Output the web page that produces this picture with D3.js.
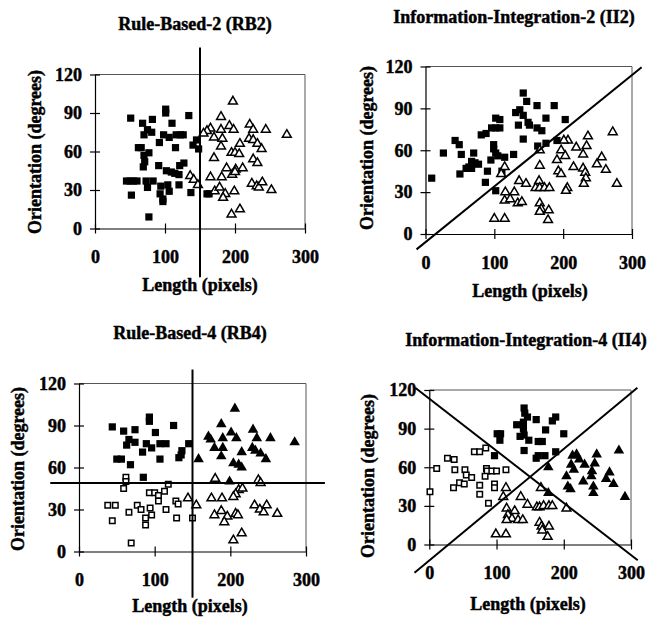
<!DOCTYPE html>
<html>
<head>
<meta charset="utf-8">
<script src="https://cdn.jsdelivr.net/npm/d3@7"></script>
<style>
body { margin: 0; background: #fff; }
text { font-family: "Liberation Serif", "Times New Roman", serif; font-weight: bold; fill: #000; stroke: #000; stroke-width: 0.45px; }
</style>
</head>
<body>
<svg id="chart" width="649" height="623"></svg>
<script>
// tick values shared by all four panels
var xTicks = [0, 100, 200, 300];
var yTicks = [0, 30, 60, 90, 120];

// RB2: [length, orientation]
var rb2Squares = [[51,86],[82,85],[101,90],[101,93],[134,88],[68,82],[110,82],[75,77],[81,75],[70,73],[98,73],[106,71],[116,73],[122,73],[126,73],[92,67],[62,63],[66,63],[115,63],[140,65],[145,69],[148,62],[77,59],[70,57],[71,52],[69,48],[91,49],[102,45],[109,44],[114,43],[121,49],[127,51],[120,42],[45,37],[50,37],[55,37],[60,37],[73,37],[83,37],[94,33],[104,34],[93,27],[106,29],[97,23],[97,21],[75,32],[52,26],[120,34],[137,28],[77,9],[160,27],[163,27]];
var rb2Triangles = [[197,99],[180,87],[165,78],[160,76],[155,74],[180,77],[192,80],[198,77],[170,71],[182,70],[180,64],[221,81],[226,77],[244,77],[274,73],[220,70],[226,69],[232,66],[238,62],[207,66],[195,59],[200,59],[206,58],[170,55],[226,54],[232,51],[188,47],[201,46],[211,47],[196,42],[200,44],[136,41],[141,38],[147,34],[165,40],[181,40],[171,29],[178,32],[186,27],[183,24],[199,29],[224,35],[231,33],[234,32],[239,36],[252,30],[195,11],[207,15]];
var rb2Bound = [[[150,141],[150,-38]]];

// II2
var ii2Squares = [[142,101],[147,95],[162,92],[187,92],[131,87],[137,89],[142,85],[175,83],[203,82],[102,83],[108,82],[149,80],[135,78],[151,78],[96,76],[102,76],[108,76],[162,76],[169,74],[81,71],[88,72],[142,68],[99,64],[99,61],[163,63],[175,65],[191,67],[43,67],[49,64],[26,58],[52,57],[70,58],[102,58],[105,56],[115,55],[128,57],[67,52],[72,51],[77,50],[63,48],[59,47],[67,47],[95,53],[50,43],[90,45],[111,45],[9,40],[87,37],[102,31]];
var ii2Triangles = [[272,73],[236,70],[207,67],[201,67],[219,62],[234,63],[166,60],[197,60],[203,56],[229,57],[191,53],[256,55],[249,50],[166,49],[215,48],[229,47],[232,44],[262,46],[193,45],[197,43],[115,48],[110,43],[136,38],[146,36],[165,38],[160,33],[166,33],[173,33],[180,33],[206,33],[204,31],[233,40],[230,36],[278,36],[116,30],[129,30],[115,24],[123,25],[134,22],[140,23],[166,22],[168,18],[179,17],[166,16],[178,10],[100,11],[115,11]];
var ii2Bound = [[[-13,-11],[314,119.5]]];

// RB4
var rb4FilledSquares = [[44,89],[93,96],[93,93],[125,90],[59,86],[74,87],[101,85],[66,80],[63,76],[74,78],[89,77],[96,74],[84,71],[107,77],[115,77],[145,77],[136,72],[135,69],[132,67],[50,66],[56,66],[107,66],[68,62],[85,53]];
var rb4OpenSquares = [[62,53],[62,50],[59,45],[118,48],[113,43],[93,42],[100,42],[105,40],[105,36],[38,33],[48,33],[77,33],[82,30],[94,31],[66,28],[96,26],[88,24],[88,19],[115,30],[128,36],[131,34],[129,24],[44,22],[150,24],[69,6]];
var rb4FilledTriangles = [[206,102],[188,91],[171,82],[174,80],[190,81],[201,85],[208,81],[230,87],[235,81],[253,81],[179,74],[190,74],[188,68],[215,71],[229,74],[233,72],[240,70],[247,66],[204,63],[211,62],[215,60],[158,66],[199,50],[285,78]];
var rb4OpenTriangles = [[180,52],[237,51],[240,49],[144,38],[155,33],[175,38],[189,38],[211,44],[216,45],[207,41],[204,39],[179,26],[188,29],[196,25],[192,21],[207,27],[210,26],[232,33],[239,30],[244,28],[248,33],[262,27],[204,8],[215,13]];
var rb4Bound = [[[150,130],[150,-33]], [[-38,49],[325,49]]];

// II4
var ii4FilledSquares = [[141,106],[142,102],[146,99],[159,97],[183,96],[188,99],[130,93],[140,95],[140,90],[173,89],[200,86],[101,86],[106,86],[105,81],[135,84],[141,85],[148,81],[162,80],[168,80],[141,73],[159,67],[162,69],[172,69],[188,72],[97,69]];
var ii4OpenSquares = [[11,59],[1,41],[27,67],[37,66],[38,58],[53,58],[55,54],[67,72],[75,72],[84,75],[85,59],[86,57],[93,57],[100,57],[114,58],[63,52],[83,53],[45,48],[52,47],[36,44],[75,46],[97,47],[97,44],[75,39],[88,32]];
var ii4FilledTriangles = [[249,70],[282,73],[213,69],[219,70],[223,66],[231,62],[246,63],[211,62],[215,58],[268,56],[263,51],[274,47],[204,53],[229,49],[242,57],[241,53],[206,45],[210,43],[244,45],[244,40],[177,60],[291,37],[177,40]];
var ii4OpenTriangles = [[114,44],[110,37],[166,44],[136,37],[146,31],[160,29],[164,29],[170,30],[178,30],[183,30],[204,28],[115,28],[127,26],[117,23],[123,20],[115,19],[132,19],[139,19],[164,17],[167,14],[178,14],[168,11],[176,6],[99,8],[114,8]];
var ii4Bound = [[[-21,121.7],[310,-12.2]], [[-22,-22],[309.5,121.7]]];

var svg = d3.select("#chart");

// marker styles
var styles = {
    filledSquare: {type: d3.symbolSquare, size: 52, fill: "#000", stroke: "none"},
    openSquare: {type: d3.symbolSquare, size: 30, fill: "#fff", stroke: "#000"},
    filledTriangle: {type: d3.symbolTriangle, size: 48, fill: "#000", stroke: "none"},
    openTriangle: {type: d3.symbolTriangle, size: 34, fill: "#fff", stroke: "#000"}
}

var panels = [
    {title: "Rule-Based-2 (RB2)", left: 95, right: 305, top: 74.5, bottom: 228.5,
     tx: 195, ty: 30, lx: 200, ly: 291, ox: 41, oy: 152,
     sets: [[rb2Squares, "filledSquare"], [rb2Triangles, "openTriangle"]], bounds: rb2Bound},
    {title: "Information-Integration-2 (II2)", left: 425.5, right: 632, top: 66.5, bottom: 234,
     tx: 514, ty: 23, lx: 530, ly: 297, ox: 373, oy: 148,
     sets: [[ii2Squares, "filledSquare"], [ii2Triangles, "openTriangle"]], bounds: ii2Bound},
    {title: "Rule-Based-4 (RB4)", left: 79, right: 306, top: 383.5, bottom: 551.5,
     tx: 190, ty: 339, lx: 190, ly: 612, ox: 24, oy: 469,
     sets: [[rb4FilledSquares, "filledSquare"], [rb4OpenSquares, "openSquare"],
            [rb4FilledTriangles, "filledTriangle"], [rb4OpenTriangles, "openTriangle"]], bounds: rb4Bound},
    {title: "Information-Integration-4 (II4)", left: 429.3, right: 631, top: 390, bottom: 544.5,
     tx: 526, ty: 346, lx: 528, ly: 610, ox: 374, oy: 476,
     sets: [[ii4FilledSquares, "filledSquare"], [ii4OpenSquares, "openSquare"],
            [ii4FilledTriangles, "filledTriangle"], [ii4OpenTriangles, "openTriangle"]], bounds: ii4Bound}
]

panels.forEach(function(p) {
    var x = d3.scaleLinear().domain([0, 300]).range([p.left, p.right]);
    var y = d3.scaleLinear().domain([0, 120]).range([p.bottom, p.top]);
    var g = svg.append("g");

    // grey frame on top and right
    g.append("path")
        .attr("d", `M${x(0)},${y(120)}H${x(300)}V${y(0)}`)
        .attr("fill", "none")
        .attr("stroke", "#555")
        .attr("stroke-width", 1);

    // axes, ticks cross the line
    var ya = g.append("g")
        .attr("transform", `translate(${x(0)},0)`)
        .call(d3.axisLeft(y).tickValues(yTicks).tickSize(5).tickSizeOuter(0).tickPadding(8));
    ya.selectAll(".tick line").attr("x1", 5);
    var xa = g.append("g")
        .attr("transform", `translate(0,${y(0)})`)
        .call(d3.axisBottom(x).tickValues(xTicks).tickSize(5).tickSizeOuter(0).tickPadding(17));
    xa.selectAll(".tick line").attr("y1", -5);
    [ya, xa].forEach(function(a) {
        a.attr("font-size", 18).attr("font-family", null);
        a.selectAll("path, line").attr("stroke", "#000").attr("stroke-width", 1.2);
    });

    // points
    p.sets.forEach(function(s) {
        var st = styles[s[1]];
        g.selectAll(null)
            .data(s[0])
            .enter()
            .append("path")
            .attr("transform", function(d) { return `translate(${x(d[0])},${y(d[1])})`; })
            .attr("d", d3.symbol().type(st.type).size(st.size))
            .attr("fill", st.fill)
            .attr("stroke", st.stroke)
            .attr("stroke-width", 1.5);
    });

    // category boundaries
    g.selectAll(null)
        .data(p.bounds)
        .enter()
        .append("path")
        .attr("d", d3.line().x(function(d) { return x(d[0]); }).y(function(d) { return y(d[1]); }))
        .attr("fill", "none")
        .attr("stroke", "#000")
        .attr("stroke-width", 2);

    // title and axis labels
    g.append("text")
        .attr("x", p.tx).attr("y", p.ty)
        .attr("text-anchor", "middle")
        .style("font-size", "18px")
        .text(p.title);
    g.append("text")
        .attr("x", p.lx).attr("y", p.ly)
        .attr("text-anchor", "middle")
        .style("font-size", "18px")
        .text("Length (pixels)");
    g.append("text")
        .attr("transform", `translate(${p.ox},${p.oy}) rotate(-90)`)
        .attr("text-anchor", "middle")
        .style("font-size", "18px")
        .text("Orientation (degrees)");
});
</script>
</body>
</html>
